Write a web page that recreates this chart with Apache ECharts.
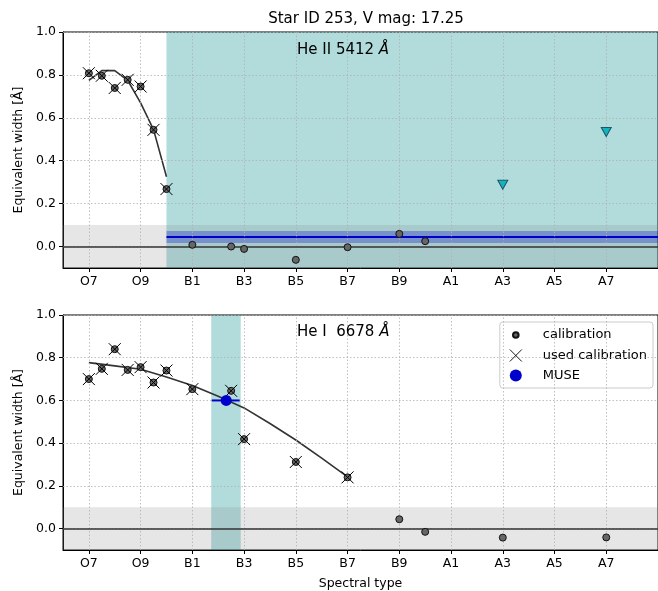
<!DOCTYPE html>
<html><head><meta charset="utf-8">
<script src="https://cdn.jsdelivr.net/npm/echarts@6/dist/echarts.min.js"></script>
<style>html,body{margin:0;padding:0;background:#fff}#c{width:658px;height:591px}</style>
</head><body><div id="c"></div>
<script>
// Spectral type index: O7=0, O8=1, O9=2, B0=3 ... B9=12, A0=13 ... A9=22
const spectralNames = ['O7','O8','O9','B0','B1','B2','B3','B4','B5','B6','B7','B8','B9','A0','A1','A2','A3','A4','A5','A6','A7','A8','A9'];
const xTickVals = [0,2,4,6,8,10,12,14,16,18,20];
const yTickVals = [0,0.2,0.4,0.6,0.8,1.0];

// Panel 1: He II 5412
const calib1X = [0,0.5,1,1.5,2,2.5,3,4,5.5,6,8,10,12,13];
const calib1Y = [0.808,0.796,0.739,0.777,0.746,0.544,0.268,0.008,0.0,-0.011,-0.062,-0.003,0.059,0.025];
const used1X = [0,0.5,1,1.5,2,2.5,3];
const used1Y = [0.808,0.796,0.739,0.777,0.746,0.544,0.268];
const fit1X = [0,0.5,1,1.5,2,2.5,3];
const fit1Y = [0.775,0.82,0.82,0.775,0.67,0.545,0.325];
const limit1X = [16,20];
const limit1Y = [0.288,0.534];
const muse1 = {value:0.044, low:0.017, high:0.072, spanFrom:3, spanTo:23};

// Panel 2: He I 6678
const calib2X = [0,0.5,1,1.5,2,2.5,3,4,5.5,6,8,10,12,13,16,20];
const calib2Y = [0.70,0.748,0.84,0.743,0.756,0.684,0.74,0.653,0.645,0.419,0.312,0.24,0.044,-0.015,-0.042,-0.041];
const used2X = [0,0.5,1,1.5,2,2.5,3,4,5.5,6,8,10];
const used2Y = [0.70,0.748,0.84,0.743,0.756,0.684,0.74,0.653,0.645,0.419,0.312,0.24];
const fit2X = [0,1,2,3,4,5,6,7,8,9,10];
const fit2Y = [0.777,0.762,0.746,0.71,0.67,0.62,0.565,0.492,0.415,0.33,0.242];
const muse2 = {x:5.31, y:0.60, xLow:4.75, xHigh:5.83, spanFrom:4.73, spanTo:5.87};

const FONT = 'DejaVu Sans';
const zip = (a,b)=>a.map((v,i)=>[v,b[i]]);
const XPATH = 'path://M0,0L10,10M10,0L0,10';
const SMALLCIRC = 'path://M0,0M12,12M3.2,6a2.8,2.8 0 1,0 5.6,0a2.8,2.8 0 1,0 -5.6,0';

function xAxisFor(gi, showName){
  return {
    type:'value', gridIndex:gi, min:-1, max:22,
    axisLine:{show:true, onZero:false, lineStyle:{color:'#000', width:1}},
    axisTick:{show:true, customValues:xTickVals, length:4, lineStyle:{color:'#000'}},
    axisLabel:{customValues:xTickVals, formatter:v=>spectralNames[Math.round(v)], color:'#000', fontFamily:FONT, fontSize:12.5, margin:7},
    splitLine:{show:false},
    name: showName ? 'Spectral type' : '', nameLocation:'middle', nameGap:27,
    nameTextStyle:{color:'#000', fontFamily:FONT, fontSize:12.5}
  };
}
function yAxisFor(gi){
  return {
    type:'value', gridIndex:gi, min:-0.1, max:1.0,
    axisLine:{show:true, onZero:false, lineStyle:{color:'#000', width:1}},
    axisTick:{show:true, customValues:yTickVals, length:4, lineStyle:{color:'#000'}},
    axisLabel:{customValues:yTickVals, formatter:v=>v.toFixed(1), color:'#000', fontFamily:FONT, fontSize:12.5, margin:7},
    splitLine:{show:false},
    name:'Equivalent width [Å]', nameLocation:'middle', nameGap:38,
    nameTextStyle:{color:'#000', fontFamily:FONT, fontSize:12.5}
  };
}
const gridLineStyle = {color:'#b0b0b0', type:[1.5,2], width:0.8};
function gridSeries(gi){
  return {
    type:'line', xAxisIndex:gi, yAxisIndex:gi, data:[], silent:true, z:1,
    markLine:{symbol:'none', silent:true, label:{show:false}, lineStyle:gridLineStyle, animation:false,
      data: xTickVals.map(v=>({xAxis:v})).concat(yTickVals.map(v=>({yAxis:v})))}
  };
}
function bgSeries(gi, span){
  return {
    type:'line', xAxisIndex:gi, yAxisIndex:gi, data:[], silent:true, z:2,
    markArea:{silent:true, animation:false, data:[
      [{xAxis:span[0], itemStyle:{color:'rgba(0,139,139,0.3)'}},{xAxis:span[1]}],
      [{yAxis:-0.1, itemStyle:{color:'rgba(128,128,128,0.2)'}},{yAxis:0.1}]
    ]},
    markLine:{symbol:'none', silent:true, label:{show:false}, animation:false,
      lineStyle:{color:'#333', width:1.5, type:'solid'}, data:[{yAxis:0}]}
  };
}
function calibSeries(gi, xs, ys){
  return {name:'calibration', type:'scatter', xAxisIndex:gi, yAxisIndex:gi, data:zip(xs,ys),
    symbol:'circle', symbolSize:7, z:5,
    itemStyle:{color:'#666', borderColor:'#111', borderWidth:1, opacity:1}};
}
function usedSeries(gi, xs, ys){
  return {name:'used calibration', type:'scatter', xAxisIndex:gi, yAxisIndex:gi, data:zip(xs,ys),
    symbol:XPATH, symbolSize:12, z:6,
    itemStyle:{color:'#000', borderColor:'#000', borderWidth:1, opacity:1}};
}
function fitSeries(gi, xs, ys){
  return {type:'line', xAxisIndex:gi, yAxisIndex:gi, data:zip(xs,ys), showSymbol:false, symbol:'none', z:4,
    lineStyle:{color:'#333', width:1.6}, silent:true};
}

const option = {
  animation:false,
  backgroundColor:'#fff',
  title:[
    {text:'Star ID 253, V mag: 17.25', left:361, textAlign:'center', top:7,
      textStyle:{fontFamily:FONT, fontSize:15, fontWeight:'normal', color:'#000'}},
    {text:'He II 5412 {i|Å}', left:292, top:38,
      textStyle:{fontFamily:FONT, fontSize:15, fontWeight:'normal', color:'#000',
        rich:{i:{fontFamily:FONT, fontSize:15, fontStyle:'italic', color:'#000'}}}},
    {text:'He I  6678 {i|Å}', left:292, top:320,
      textStyle:{fontFamily:FONT, fontSize:15, fontWeight:'normal', color:'#000',
        rich:{i:{fontFamily:FONT, fontSize:15, fontStyle:'italic', color:'#000'}}}}
  ],
  legend:{
    orient:'vertical', right:5, top:322, itemWidth:24, itemHeight:12, itemGap:7,
    padding:[6,6,6,9], backgroundColor:'rgba(255,255,255,0.85)', borderColor:'#ccc', borderWidth:1, borderRadius:3,
    textStyle:{fontFamily:FONT, fontSize:13, color:'#000', padding:[0,0,0,10]},
    data:[
      {name:'calibration', icon:SMALLCIRC},
      {name:'used calibration', icon:XPATH, itemStyle:{borderWidth:0.9}},
      {name:'MUSE', icon:'circle'}
    ]
  },
  grid:[
    {left:63, right:-2, top:32, height:236, show:true, borderColor:'#000', borderWidth:1, backgroundColor:'transparent'},
    {left:63, right:-2, top:315, height:236, show:true, borderColor:'#000', borderWidth:1, backgroundColor:'transparent'}
  ],
  xAxis:[xAxisFor(0,false), xAxisFor(1,true)],
  yAxis:[yAxisFor(0), yAxisFor(1)],
  series:[
    gridSeries(0), gridSeries(1),
    bgSeries(0, [muse1.spanFrom, muse1.spanTo]),
    bgSeries(1, [muse2.spanFrom, muse2.spanTo]),
    // MUSE band panel 1
    {type:'line', xAxisIndex:0, yAxisIndex:0, data:zip([muse1.spanFrom, muse1.spanTo],[muse1.value, muse1.value]),
      showSymbol:false, symbol:'none', z:3, silent:true, lineStyle:{color:'#0000cd', width:2},
      markArea:{silent:true, animation:false, data:[[{xAxis:muse1.spanFrom, yAxis:muse1.low, itemStyle:{color:'rgba(0,0,205,0.28)'}},{xAxis:muse1.spanTo, yAxis:muse1.high}]]}},
    fitSeries(0, fit1X, fit1Y),
    calibSeries(0, calib1X, calib1Y),
    usedSeries(0, used1X, used1Y),
    {type:'scatter', xAxisIndex:0, yAxisIndex:0, data:zip(limit1X, limit1Y), symbol:'triangle', symbolRotate:180, symbolSize:[10,9], z:6,
      itemStyle:{color:'#14b4bf', borderColor:'#1c5468', borderWidth:1, opacity:1}},
    fitSeries(1, fit2X, fit2Y),
    calibSeries(1, calib2X, calib2Y),
    usedSeries(1, used2X, used2Y),
    {type:'line', xAxisIndex:1, yAxisIndex:1, data:zip([muse2.xLow, muse2.xHigh],[muse2.y, muse2.y]),
      showSymbol:false, symbol:'none', z:7, silent:true, lineStyle:{color:'#0000cd', width:2}},
    {name:'MUSE', type:'scatter', xAxisIndex:1, yAxisIndex:1, data:[[muse2.x, muse2.y]], symbol:'circle', symbolSize:11, z:8,
      itemStyle:{color:'#0000cd', opacity:1}}
  ]
};
const chart = echarts.init(document.getElementById('c'), null, {renderer:'canvas'});
chart.setOption(option);
</script></body></html>
